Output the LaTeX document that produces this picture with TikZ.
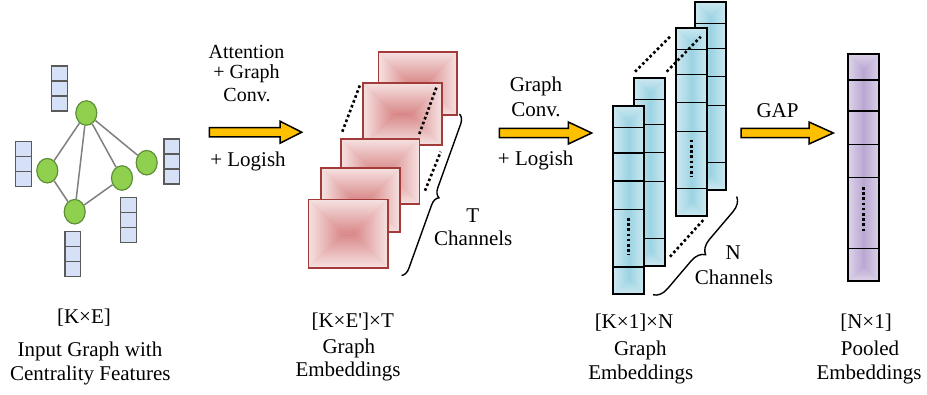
\documentclass[tikz,border=0pt]{standalone}
\usepackage{fontspec}
\setmainfont{Liberation Serif}
\usetikzlibrary{shapes.geometric,decorations.pathreplacing}

\definecolor{pinkedge}{HTML}{F6E2E2}
\definecolor{pinkmid}{HTML}{D98888}
\definecolor{pinkline}{HTML}{A33B3B}
\definecolor{blueedge}{HTML}{CDE9F1}
\definecolor{bluemid}{HTML}{9CD3E3}
\definecolor{purpedge}{HTML}{DCD2E8}
\definecolor{purpmid}{HTML}{BAA7D3}
\definecolor{arrowfill}{HTML}{FFC000}
\definecolor{nodegreen}{HTML}{8FD14F}
\definecolor{nodeline}{HTML}{5E8F36}
\definecolor{featfill}{HTML}{D6E0F6}
\definecolor{featline}{HTML}{5A5A5A}
\definecolor{edgegray}{HTML}{7F7F7F}

% rectangle with a "path" gradient: edge colour at the border, centre colour in the middle
\newcommand\gradbox[6]{%
  \pgfmathsetmacro\gxa{#1}\pgfmathsetmacro\gya{#2}%
  \pgfmathsetmacro\gxb{#3}\pgfmathsetmacro\gyb{#4}%
  \pgfmathsetmacro\gw{\gxb-\gxa}\pgfmathsetmacro\gh{\gyb-\gya}%
  \pgfmathsetmacro\gcx{(\gxa+\gxb)/2}\pgfmathsetmacro\gcy{(\gya+\gyb)/2}%
  \fill[#5!50!#6] (\gxa,\gya) rectangle (\gxb,\gyb);%
  \ifdim\gw pt<\gh pt
    \pgfmathsetmacro\gpa{\gya+\gw/2}\pgfmathsetmacro\gpb{\gyb-\gw/2}%
    \begin{scope}\clip (\gxa,\gya)--(\gxb,\gya)--(\gcx,\gpa)--cycle;
      \shade[top color=#5,bottom color=#6] (\gxa,\gya) rectangle (\gxb,\gpa);\end{scope}
    \begin{scope}\clip (\gxa,\gyb)--(\gxb,\gyb)--(\gcx,\gpb)--cycle;
      \shade[top color=#6,bottom color=#5] (\gxa,\gpb) rectangle (\gxb,\gyb);\end{scope}
    \begin{scope}\clip (\gxa,\gya)--(\gcx,\gpa)--(\gcx,\gpb)--(\gxa,\gyb)--cycle;
      \shade[left color=#5,right color=#6] (\gxa,\gya) rectangle (\gcx,\gyb);\end{scope}
    \begin{scope}\clip (\gxb,\gya)--(\gcx,\gpa)--(\gcx,\gpb)--(\gxb,\gyb)--cycle;
      \shade[left color=#6,right color=#5] (\gcx,\gya) rectangle (\gxb,\gyb);\end{scope}
  \else
    \pgfmathsetmacro\gpa{\gxa+\gh/2}\pgfmathsetmacro\gpb{\gxb-\gh/2}%
    \begin{scope}\clip (\gxa,\gya)--(\gxa,\gyb)--(\gpa,\gcy)--cycle;
      \shade[left color=#5,right color=#6] (\gxa,\gya) rectangle (\gpa,\gyb);\end{scope}
    \begin{scope}\clip (\gxb,\gya)--(\gxb,\gyb)--(\gpb,\gcy)--cycle;
      \shade[left color=#6,right color=#5] (\gpb,\gya) rectangle (\gxb,\gyb);\end{scope}
    \begin{scope}\clip (\gxa,\gya)--(\gxb,\gya)--(\gpb,\gcy)--(\gpa,\gcy)--cycle;
      \shade[top color=#5,bottom color=#6] (\gxa,\gya) rectangle (\gxb,\gcy);\end{scope}
    \begin{scope}\clip (\gxa,\gyb)--(\gxb,\gyb)--(\gpb,\gcy)--(\gpa,\gcy)--cycle;
      \shade[top color=#6,bottom color=#5] (\gxa,\gcy) rectangle (\gxb,\gyb);\end{scope}
  \fi}

\newcommand\pinksq[4]{%
  \gradbox{#1}{#2}{#3}{#4}{pinkedge}{pinkmid}%
  \draw[pinkline,line width=1.6pt] (#1,#2) rectangle (#3,#4);}

\newcommand\bcol[3]{%
  \pgfmathsetmacro\bxa{#1}\pgfmathsetmacro\bya{#2}%
  \pgfmathsetmacro\bxb{#1+31}\pgfmathsetmacro\byb{#2+188}%
  \gradbox{\bxa}{\bya}{\bxb}{\byb}{blueedge}{bluemid}%
  \foreach \d in {21.5,47,75,103.5,161} \draw[cellline] (\bxa,{\bya+\d}) -- (\bxb,{\bya+\d});
  \draw[colline] (\bxa,\bya) rectangle (\bxb,\byb);
  \ifnum#3=1 \draw[dotline] ({\bxa+15.3},{\bya+112}) -- ({\bxa+15.3},{\bya+149});\fi}

\newcommand\featvec[2]{%
  \foreach \k in {0,1,2}
    \draw[featline,line width=1.1pt,fill=featfill] (#1,{#2+15*\k}) rectangle ({#1+15.5},{#2+15*\k+15});}

\newcommand\blockarrow[4]{% x start, head start, tip, y centre
  \draw[line width=1.5pt,fill=arrowfill,line join=miter]
    (#1,{#4-4.7}) -- (#2,{#4-4.7}) -- (#2,{#4-11}) -- (#3,#4) -- (#2,{#4+11})
    -- (#2,{#4+4.7}) -- (#1,{#4+4.7}) -- cycle;}

\begin{document}
\begin{tikzpicture}[x=1pt,y=-1pt,
  font=\fontsize{21}{23}\selectfont,
  lbl/.style={anchor=base,inner sep=0pt},
  slbl/.style={anchor=base,inner sep=0pt,font=\fontsize{20}{22}\selectfont},
  gnode/.style={ellipse,draw=nodeline,line width=1.2pt,fill=nodegreen,
                minimum width=21pt,minimum height=24.5pt,inner sep=0pt},
  gedge/.style={edgegray,line width=1.5pt},
  cellline/.style={black,line width=1.4pt},
  colline/.style={black,line width=1.8pt},
  dotline/.style={black,line width=2.6pt,dash pattern=on 2.6pt off 2.6pt},
  brc/.style={decorate,line width=1.4pt}]

\useasboundingbox (0,0) rectangle (927,394);

% ---------- input graph ----------
\featvec{51.7}{66}
\featvec{15.7}{141.7}
\featvec{164}{139}
\featvec{120.7}{197.7}
\featvec{65}{231.7}

\node[gnode] (n1) at (86.3,113) {};
\node[gnode] (n2) at (47.3,170.7) {};
\node[gnode] (n3) at (74.7,211.7) {};
\node[gnode] (n4) at (122,178) {};
\node[gnode] (n5) at (146.7,162.7) {};
\draw[gedge] (n1) -- (n2);
\draw[gedge] (n1) -- (n3);
\draw[gedge] (n1) -- (n4);
\draw[gedge] (n1) -- (n5);
\draw[gedge] (n2) -- (n3);
\draw[gedge] (n3) -- (n4);

% ---------- arrow 1 ----------
\blockarrow{209.3}{280}{301.7}{132.2}
\node[slbl] (a1) at (246.5,58.5) {Attention};
\node[slbl] (a2) at (246.5,78.5) {+ Graph};
\node[slbl] (a3) at (247,101.5) {Conv.};
\node[lbl] (a4) at (248,166.7) {+ Logish};

% ---------- pink stack ----------
\pinksq{378.3}{51.7}{456.7}{115}
\pinksq{362.7}{82.7}{441.7}{145}
\draw[dotline] (342.3,131.7) -- (360,85);
\draw[dotline] (419.3,134) -- (436.7,86.7);
\draw[dotline] (425,190.7) -- (440.7,151.7);
\pinksq{341}{138.7}{419.3}{204}
\pinksq{321}{167.7}{400}{231.7}
\pinksq{308.3}{199.3}{387.7}{267.7}
\coordinate (bt1) at (459.5,114);
\coordinate (bb1) at (401.5,275.5);
\draw[brc,decoration={brace,amplitude=9pt}] (bt1) -- (bb1);
\node[lbl] (tch1) at (472.7,222.7) {T};
\node[lbl] (tch2) at (473.3,245.7) {Channels};

% ---------- arrow 2 ----------
\blockarrow{499.3}{568.3}{591.7}{133}
\node[lbl] (b1) at (536,91.7) {Graph};
\node[lbl] (b2) at (536,116.7) {Conv.};
\node[lbl] (b3) at (535.7,165) {+ Logish};

% ---------- blue columns ----------
\bcol{695}{1.7}{0}
\bcol{676}{27.7}{1}
\draw[dotline] (635,71.7) -- (670,36.7);
\draw[dotline] (666.7,71.7) -- (700.7,36.7);
\draw[dotline] (670,256.7) -- (703.3,220);
\bcol{634.3}{77.7}{0}
\bcol{613.3}{106}{1}
\coordinate (bt2) at (736.7,196.5);
\coordinate (bb2) at (653,295);
\draw[brc,decoration={brace,amplitude=14pt}] (bt2) -- (bb2);
\node[lbl] (nch1) at (733.3,259.5) {N};
\node[lbl] (nch2) at (734,284) {Channels};

% ---------- arrow 3 ----------
\blockarrow{741}{809}{833.3}{133}
\node[lbl] (gap) at (777.5,117.3) {GAP};

% ---------- pooled column ----------
\gradbox{848.3}{54}{879}{280.7}{purpedge}{purpmid}
\foreach \d in {26,57,90.3,123.7,194.3} \draw[cellline] (848.3,{54+\d}) -- (879,{54+\d});
\draw[colline] (848.3,54) rectangle (879,280.7);
\draw[dotline] (863.6,187) -- (863.6,233);

% ---------- bottom captions ----------
\node[lbl] (c1a) at (84,323.3) {[K×E]};
\node[lbl] (c1b) at (90,356.7) {Input Graph with};
\node[lbl] (c1c) at (90.3,380) {Centrality Features};
\node[lbl] (c2a) at (352.7,327.3) {[K×E\textquotesingle]×T};
\node[lbl] (c2b) at (348.8,353.3) {Graph};
\node[lbl] (c2c) at (348,376.7) {Embeddings};
\node[lbl] (c3a) at (634,328.3) {[K×1]×N};
\node[lbl] (c3b) at (640.3,355) {Graph};
\node[lbl] (c3c) at (640.8,379.3) {Embeddings};
\node[lbl] (c4a) at (866,328.3) {[N×1]};
\node[lbl] (c4b) at (870,355) {Pooled};
\node[lbl] (c4c) at (869,379.3) {Embeddings};
\end{tikzpicture}
\end{document}
